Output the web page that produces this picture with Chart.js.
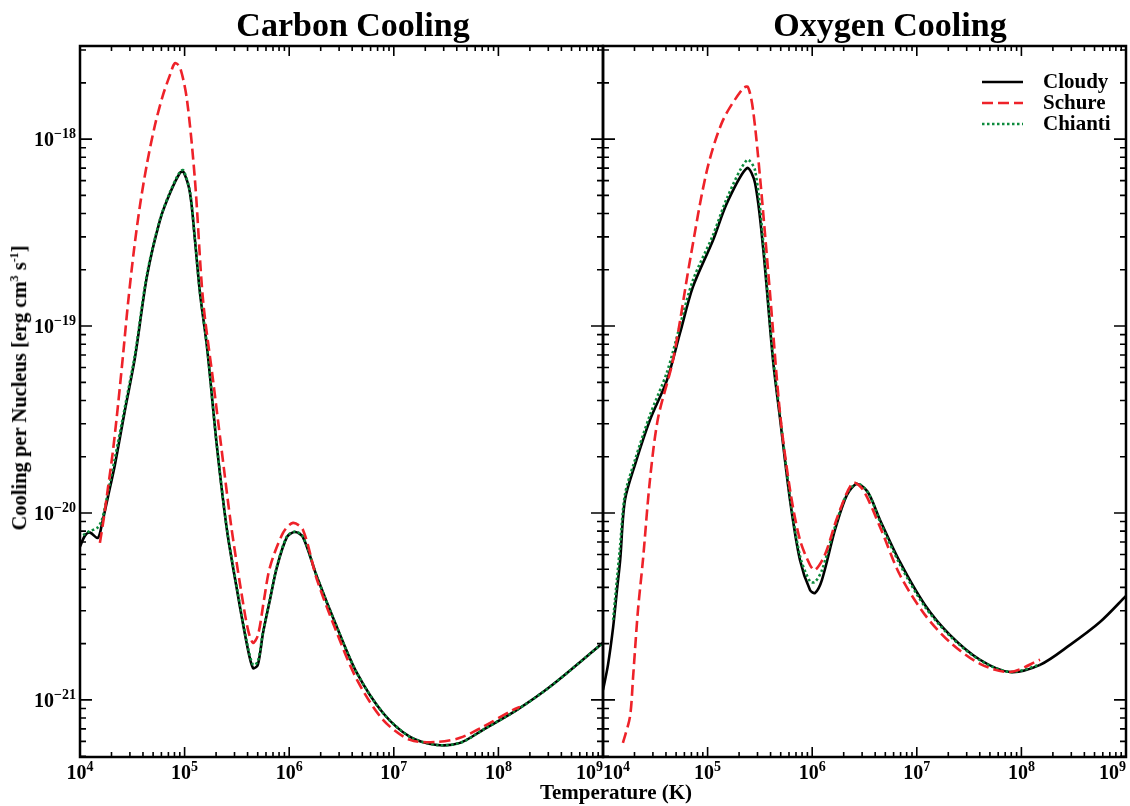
<!DOCTYPE html>
<html>
<head>
<meta charset="utf-8">
<script src="https://cdn.jsdelivr.net/npm/chart.js@4.4.1/dist/chart.umd.min.js"></script>
<style>
  body { margin: 0; background: #fff; }
  #wrap { position: relative; width: 1130px; height: 806px; overflow: hidden;
          font-family: "Liberation Serif", "Times New Roman", serif; font-weight: bold; color: #000; }
  canvas { position: absolute; left: 0; top: 0; }
  .title { position: absolute; top: 8px; font-size: 34px; line-height: 34px; white-space: nowrap; transform: translateX(-50%); }
  #ytitle { position: absolute; left: 19px; top: 388px; font-size: 20.5px; white-space: nowrap;
            transform: translate(-50%, -50%) rotate(-90deg); }
  #ytitle sup { font-size: 12px; }
  #xtitle { position: absolute; left: 616px; top: 780px; font-size: 21px; white-space: nowrap; transform: translateX(-50%); }
</style>
</head>
<body>
<div id="wrap">
  <canvas id="carbon" width="1130" height="806"></canvas>
  <canvas id="oxygen" width="1130" height="806"></canvas>
  <div class="title" style="left:353px">Carbon Cooling</div>
  <div class="title" style="left:890px">Oxygen Cooling</div>
  <div id="ytitle">Cooling per Nucleus [erg cm<sup>3</sup> s<sup>-1</sup>]</div>
  <div id="xtitle">Temperature (K)</div>
</div>
<script>
// --- axis ranges and tick labels ---
const X_MIN = 1e4, X_MAX = 1e9;
const Y_MIN = 4.95e-22, Y_MAX = 3.15e-18;
const X_TICKS = [1e4, 1e5, 1e6, 1e7, 1e8, 1e9];
const X_TICK_EXP = ["4", "5", "6", "7", "8", "9"];
const Y_TICKS = [1e-21, 1e-20, 1e-19, 1e-18];
const Y_TICK_EXP = ["\u221221", "\u221220", "\u221219", "\u221218"];
const SERIES_NAMES = ["Cloudy", "Schure", "Chianti"];

// --- Carbon panel (T in K, cooling in erg cm^3 s^-1) ---
const C_T_CLOUDY = [1.0e4, 1.12e4, 1.25e4, 1.48e4, 1.62e4, 1.85e4, 2.16e4, 2.69e4, 3.36e4, 4.37e4,
  5.82e4, 7.24e4, 9.04e4, 9.77e4, 1.127e5, 1.256e5, 1.403e5, 1.637e5, 2.04e5, 2.54e5,
  3.17e5, 3.95e5, 4.51e5, 5.01e5, 5.62e5, 6.55e5, 7.64e5, 9.53e5, 1.135e6, 1.35e6,
  1.845e6, 2.86e6, 4.45e6, 7.89e6, 1.43e7, 2.59e7, 4.30e7, 7.13e7, 1.507e8, 3.11e8, 1.0e9];
const C_L_CLOUDY = [6.61e-21, 7.59e-21, 7.85e-21, 7.35e-21, 8.71e-21, 1.22e-20, 1.82e-20, 3.55e-20, 6.82e-20, 1.85e-19,
  3.69e-19, 5.13e-19, 6.61e-19, 6.67e-19, 5.14e-19, 2.88e-19, 1.50e-19, 7.73e-20, 2.25e-20, 8.11e-21,
  3.87e-21, 1.97e-21, 1.48e-21, 1.54e-21, 2.28e-21, 3.43e-21, 5.14e-21, 7.45e-21, 7.91e-21, 7.45e-21,
  4.55e-21, 2.45e-21, 1.39e-21, 8.51e-22, 6.34e-22, 5.74e-22, 5.89e-22, 6.92e-22, 8.85e-22, 1.175e-21, 2.02e-21];

const C_T_SCHURE = [1.55e4, 1.69e4, 1.85e4, 2.07e4, 2.31e4, 2.58e4, 2.88e4, 3.28e4, 3.75e4, 4.38e4,
  5.21e4, 6.21e4, 7.24e4, 8.09e4, 9.04e4, 1.054e5, 1.256e5, 1.50e5, 1.87e5, 2.23e5,
  2.78e5, 3.46e5, 4.04e5, 4.51e5, 5.04e5, 5.74e5, 6.55e5, 8.73e5, 1.087e6, 1.355e6,
  1.845e6, 2.86e6, 4.45e6, 7.89e6, 1.43e7, 2.59e7, 4.30e7, 7.13e7, 1.38e8, 1.61e8];
const C_L_SCHURE = [6.92e-21, 9.40e-21, 1.36e-20, 2.17e-20, 3.79e-20, 7.0e-20, 1.33e-19, 2.55e-19, 4.44e-19, 7.45e-19,
  1.19e-18, 1.72e-18, 2.20e-18, 2.55e-18, 2.42e-18, 1.62e-18, 6.04e-19, 1.38e-19, 5.14e-20, 2.31e-20,
  8.63e-21, 3.87e-21, 2.37e-21, 2.02e-21, 2.23e-21, 3.43e-21, 5.14e-21, 7.82e-21, 8.85e-21, 8.11e-21,
  4.39e-21, 2.28e-21, 1.28e-21, 7.82e-22, 6.11e-22, 5.96e-22, 6.27e-22, 7.18e-22, 8.85e-22, 9.18e-22];

const C_T_CHIANTI = [1.07e4, 1.25e4, 1.46e4, 1.62e4, 1.85e4, 2.16e4, 2.69e4, 3.36e4, 4.37e4, 5.82e4,
  7.24e4, 9.04e4, 9.77e4, 1.127e5, 1.256e5, 1.403e5, 1.637e5, 2.04e5, 2.54e5, 3.17e5,
  3.95e5, 4.51e5, 5.01e5, 5.62e5, 6.55e5, 7.64e5, 9.53e5, 1.135e6, 1.35e6, 1.845e6,
  2.86e6, 4.45e6, 7.89e6, 1.43e7, 2.59e7, 4.30e7, 7.13e7, 1.507e8, 3.11e8, 1.0e9];
const C_L_CHIANTI = [7.62e-21, 8.02e-21, 8.32e-21, 9.18e-21, 1.29e-20, 1.97e-20, 3.7e-20, 7.1e-20, 1.9e-19, 3.72e-19,
  5.2e-19, 6.7e-19, 6.8e-19, 5.2e-19, 2.9e-19, 1.52e-19, 7.8e-20, 2.27e-20, 8.2e-21, 3.95e-21,
  2.02e-21, 1.54e-21, 1.6e-21, 2.32e-21, 3.48e-21, 5.2e-21, 7.5e-21, 7.95e-21, 7.5e-21, 4.55e-21,
  2.45e-21, 1.39e-21, 8.51e-22, 6.34e-22, 5.74e-22, 5.89e-22, 6.92e-22, 8.85e-22, 1.175e-21, 2.02e-21];

// --- Oxygen panel ---
const O_T_CLOUDY = [1.0e4, 1.116e4, 1.25e4, 1.36e4, 1.46e4, 1.62e4, 2.02e4, 2.81e4, 4.09e4, 5.45e4,
  7.24e4, 1.127e5, 1.53e5, 2.38e5, 2.84e5, 3.39e5, 4.22e5, 4.92e5, 6.14e5, 7.64e5,
  9.53e5, 1.064e6, 1.24e6, 1.65e6, 2.15e6, 2.68e6, 3.41e6, 4.45e6, 6.90e6, 1.197e7,
  2.07e7, 4.02e7, 7.78e7, 1.507e8, 2.92e8, 5.64e8, 1.0e9];
const O_L_CLOUDY = [1.13e-21, 1.54e-21, 2.45e-21, 3.87e-21, 5.61e-21, 1.17e-20, 1.81e-20, 3.14e-20, 5.14e-20, 9.18e-20,
  1.62e-19, 2.88e-19, 4.55e-19, 7.0e-19, 5.82e-19, 2.64e-19, 6.58e-20, 3.22e-20, 1.17e-20, 5.61e-21,
  3.87e-21, 3.73e-21, 4.39e-21, 8.11e-21, 1.25e-20, 1.43e-20, 1.29e-20, 9.18e-21, 5.47e-21, 3.22e-21,
  2.23e-21, 1.64e-21, 1.41e-21, 1.54e-21, 1.97e-21, 2.61e-21, 3.60e-21];

const O_T_SCHURE = [1.55e4, 1.81e4, 1.94e4, 2.16e4, 2.41e4, 2.81e4, 3.36e4, 4.67e4, 6.79e4, 9.86e4,
  1.40e5, 2.18e5, 2.43e5, 2.72e5, 3.17e5, 3.95e5, 4.92e5, 6.14e5, 7.64e5, 9.53e5,
  1.064e6, 1.32e6, 1.77e6, 2.45e6, 3.06e6, 4.45e6, 6.90e6, 1.197e7, 2.07e7, 4.02e7,
  7.78e7, 1.507e8];
const O_L_SCHURE = [5.89e-22, 8.11e-22, 1.33e-21, 3.03e-21, 5.61e-21, 1.50e-20, 3.22e-20, 6.58e-20, 2.25e-19, 6.82e-19,
  1.26e-18, 1.87e-18, 1.90e-18, 1.43e-18, 6.27e-19, 1.50e-19, 3.43e-20, 1.33e-20, 7.18e-21, 5.27e-21,
  4.95e-21, 5.96e-21, 9.75e-21, 1.45e-20, 1.33e-20, 8.42e-21, 4.66e-21, 2.85e-21, 2.04e-21, 1.56e-21,
  1.41e-21, 1.64e-21];

const O_T_CHIANTI = [1.25e4, 1.46e4, 1.62e4, 2.02e4, 2.81e4, 4.09e4, 5.45e4, 7.24e4, 1.127e5, 1.53e5,
  2.38e5, 2.84e5, 3.39e5, 4.22e5, 4.92e5, 6.14e5, 7.64e5, 9.53e5, 1.064e6, 1.24e6,
  1.65e6, 2.15e6, 2.68e6, 3.41e6, 4.45e6, 6.90e6, 1.197e7, 2.07e7, 4.02e7, 7.78e7, 1.507e8];
const O_L_CHIANTI = [2.68e-21, 6.75e-21, 1.25e-20, 1.92e-20, 3.34e-20, 5.67e-20, 1.01e-19, 1.76e-19, 3.07e-19, 4.83e-19,
  7.73e-19, 6.82e-19, 2.88e-19, 6.9e-20, 3.35e-20, 1.22e-20, 5.9e-21, 4.3e-21, 4.28e-21, 4.95e-21,
  8.42e-21, 1.27e-20, 1.44e-20, 1.29e-20, 9.0e-21, 5.3e-21, 3.15e-21, 2.2e-21, 1.63e-21, 1.41e-21, 1.54e-21];

// --- styles ---
const BLACK = "#000000", RED = "#ee2229", GREEN = "#0d8a3c";
const FONT = '"Liberation Serif", "Times New Roman", serif';

function pts(T, L) {
  return T.map((t, i) => ({ x: t, y: L[i] }));
}

function datasets(tc, lc, ts, ls, tg, lg) {
  return [
    { label: SERIES_NAMES[0], data: pts(tc, lc), borderColor: BLACK, borderWidth: 2.6, order: 3 },
    { label: SERIES_NAMES[1], data: pts(ts, ls), borderColor: RED, borderWidth: 2.6, borderDash: [11, 5], order: 1 },
    { label: SERIES_NAMES[2], data: pts(tg, lg), borderColor: GREEN, borderWidth: 2.6, borderDash: [2.5, 2.5], order: 2 }
  ];
}

// superscript "10^n" label; align: center / left / right of x
function drawPow(ctx, exp, x, y, align) {
  ctx.font = "bold 20px " + FONT;
  const wb = ctx.measureText("10").width;
  ctx.font = "bold 14px " + FONT;
  const we = ctx.measureText(exp).width;
  let x0 = x - (wb + we) / 2;
  if (align === "right") x0 = x - wb - we;
  if (align === "left") x0 = x;
  ctx.textAlign = "left";
  ctx.textBaseline = "alphabetic";
  ctx.font = "bold 20px " + FONT;
  ctx.fillText("10", x0, y + 7);
  ctx.font = "bold 14px " + FONT;
  ctx.fillText(exp, x0 + wb, y - 1);
}

// --- frame, inward ticks, tick labels, legend ---
const framePlugin = {
  id: "frame",
  afterDatasetsDraw(chart, args, opts) {
    const { ctx, chartArea: a, scales: { x, y } } = chart;
    ctx.save();
    ctx.strokeStyle = "#000";
    ctx.fillStyle = "#000";
    ctx.lineWidth = 1.6;
    ctx.beginPath();
    for (let e = 4; e <= 9; e++) {
      for (let k = 1; k <= 9; k++) {
        const v = k * Math.pow(10, e);
        if (v < X_MIN || v > X_MAX) continue;
        const px = x.getPixelForValue(v);
        const len = k === 1 ? 10 : 5;
        ctx.moveTo(px, a.bottom); ctx.lineTo(px, a.bottom - len);
        ctx.moveTo(px, a.top); ctx.lineTo(px, a.top + len);
      }
    }
    for (let e = -22; e <= -18; e++) {
      for (let k = 1; k <= 9; k++) {
        const v = k * Math.pow(10, e);
        if (v < Y_MIN || v > Y_MAX) continue;
        const py = y.getPixelForValue(v);
        const len = k === 1 ? 12 : 6;
        ctx.moveTo(a.left, py); ctx.lineTo(a.left + len, py);
        ctx.moveTo(a.right, py); ctx.lineTo(a.right - len, py);
      }
    }
    ctx.stroke();

    ctx.lineWidth = 2.5;
    ctx.strokeRect(a.left, a.top, a.right - a.left, a.bottom - a.top);

    X_TICKS.forEach((v, i) => {
      let align = "center";
      if (i === X_TICKS.length - 1) align = "right";
      if (i === 0 && opts.firstLeft) align = "left";
      drawPow(ctx, X_TICK_EXP[i], x.getPixelForValue(v), a.bottom + 15, align);
    });
    if (opts.yLabels) {
      Y_TICKS.forEach((v, i) => drawPow(ctx, Y_TICK_EXP[i], a.left - 4, y.getPixelForValue(v), "right"));
    }

    if (opts.legend) {
      chart.data.datasets.forEach((ds, i) => {
        const ly = 82 + i * 21;
        ctx.save();
        ctx.strokeStyle = ds.borderColor;
        ctx.lineWidth = 2.6;
        ctx.setLineDash(ds.borderDash || []);
        ctx.beginPath();
        ctx.moveTo(982, ly); ctx.lineTo(1023, ly);
        ctx.stroke();
        ctx.restore();
        ctx.font = "bold 21px " + FONT;
        ctx.textAlign = "left";
        ctx.textBaseline = "alphabetic";
        ctx.fillText(ds.label, 1043, ly + 6);
      });
    }
    ctx.restore();
  }
};

function makeChart(id, sets, padLeft, padRight, opts) {
  return new Chart(document.getElementById(id).getContext("2d"), {
    type: "line",
    data: { datasets: sets },
    plugins: [framePlugin],
    options: {
      responsive: false,
      animation: false,
      layout: { padding: { left: padLeft, right: padRight, top: 46, bottom: 49 } },
      elements: {
        point: { radius: 0 },
        line: { tension: 0.3, borderCapStyle: "butt", borderJoinStyle: "round", fill: false }
      },
      plugins: { legend: { display: false }, tooltip: { enabled: false }, frame: opts },
      scales: {
        x: { type: "logarithmic", min: X_MIN, max: X_MAX, display: false },
        y: { type: "logarithmic", min: Y_MIN, max: Y_MAX, display: false }
      }
    }
  });
}

makeChart("carbon", datasets(C_T_CLOUDY, C_L_CLOUDY, C_T_SCHURE, C_L_SCHURE, C_T_CHIANTI, C_L_CHIANTI),
  80, 1130 - 603, { yLabels: true, legend: false, firstLeft: false });
makeChart("oxygen", datasets(O_T_CLOUDY, O_L_CLOUDY, O_T_SCHURE, O_L_SCHURE, O_T_CHIANTI, O_L_CHIANTI),
  603, 4, { yLabels: false, legend: true, firstLeft: true });
</script>
</body>
</html>
